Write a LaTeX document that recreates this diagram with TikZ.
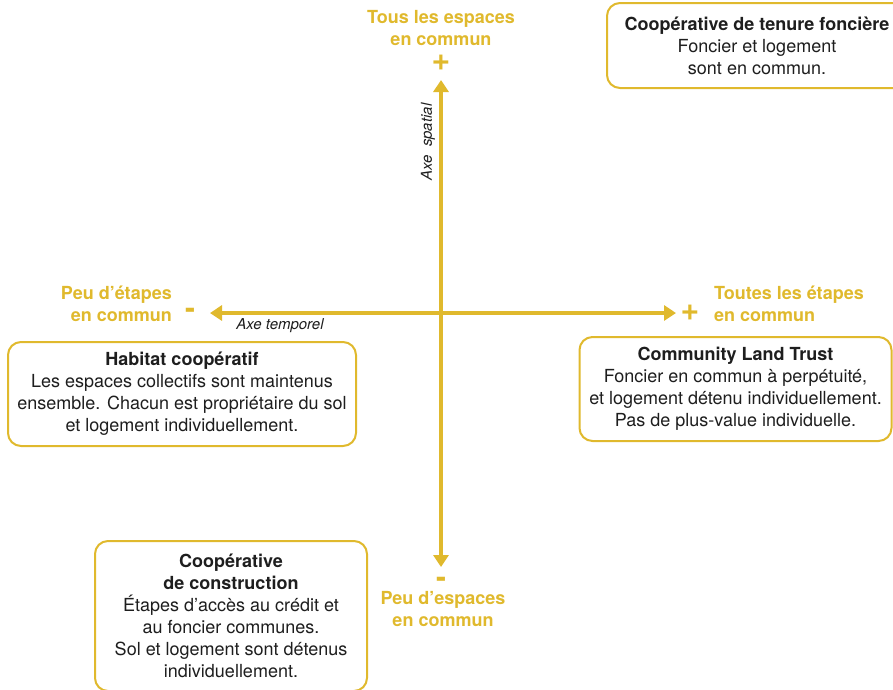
\documentclass[tikz,border=0pt]{standalone}
\usepackage{fontspec}
\setmainfont{TeX Gyre Heros}
\usetikzlibrary{arrows.meta}
\definecolor{gold}{RGB}{224,185,45}
\definecolor{txt}{RGB}{30,30,30}
\tikzset{
  axisline/.style={draw=gold, line width=4pt, {Triangle[length=12pt,width=15pt]}-{Triangle[length=12pt,width=15pt]}},
  goldlbl/.style={text=gold, font=\fontsize{18}{21.5}\selectfont\bfseries, inner sep=0pt},
  signlbl/.style={text=gold, font=\fontsize{32}{32}\selectfont\bfseries, inner sep=0pt},
  minuslbl/.style={text=gold, font=\fontsize{30}{30}\selectfont\bfseries, inner sep=0pt},
  axislbl/.style={text=txt, font=\fontsize{15}{17}\selectfont\itshape, inner sep=0pt},
  infobox/.style={draw=gold, line width=2pt, rounded corners=13pt, fill=white, text=txt,
     align=center, inner sep=0pt, font=\fontsize{18}{22}\selectfont},
}
\begin{document}
\begin{tikzpicture}[x=1pt,y=-1pt]
\useasboundingbox (0,0) rectangle (893,689);
% axes
\coordinate (vtop) at (441,80);
\coordinate (vbot) at (441,567);
\coordinate (hleft) at (210,313);
\coordinate (hright) at (676,313);
\draw[axisline] (vbot) -- (vtop);
\draw[axisline] (hleft) -- (hright);
% signs
\node[signlbl] (plustop) at (441,63) {+};
\node[signlbl] (plusright) at (690,313) {+};
\node[minuslbl] (minusleft) at (190,313) {-};
\node[minuslbl] (minusbot) at (441,582) {-};
% axis end labels
\node[goldlbl, align=center] (ltop) at (441,28) {Tous les espaces\\en commun};
\node[goldlbl, align=right, anchor=east] (lleft) at (172,304) {Peu d’étapes\\en commun};
\node[goldlbl, align=left, anchor=west] (lright) at (714,304) {Toutes les étapes\\en commun};
\node[goldlbl, align=center] (lbot) at (443,609) {Peu d’espaces\\en commun};
% axis names
\node[axislbl] (atemp) at (280,326) {Axe temporel};
\node[axislbl, rotate=90] (aspat) at (428,142) {Axe\ \ spatial};
% boxes
\node[infobox, minimum width=300pt, minimum height=85pt] (ctf) at (757,45.5)
  {\textbf{Coopérative de tenure foncière}\\Foncier et logement\\sont en commun.};
\node[infobox, minimum width=348pt, minimum height=104pt] (hc) at (182,394)
  {\textbf{Habitat coopératif}\\Les espaces collectifs sont maintenus\\ensemble. Chacun est propriétaire du sol\\et logement individuellement.};
\node[infobox, minimum width=312pt, minimum height=104pt] (clt) at (735.5,389)
  {\textbf{Community Land Trust}\\Foncier en commun à perpétuité,\\et logement détenu individuellement.\\Pas de plus-value individuelle.};
\node[infobox, minimum width=272pt, minimum height=150pt, anchor=north] (cc) at (231,540)
  {\textbf{Coopérative}\\\textbf{de construction}\\Étapes d’accès au crédit et\\au foncier communes.\\Sol et logement sont détenus\\individuellement.};
\end{tikzpicture}
\end{document}
